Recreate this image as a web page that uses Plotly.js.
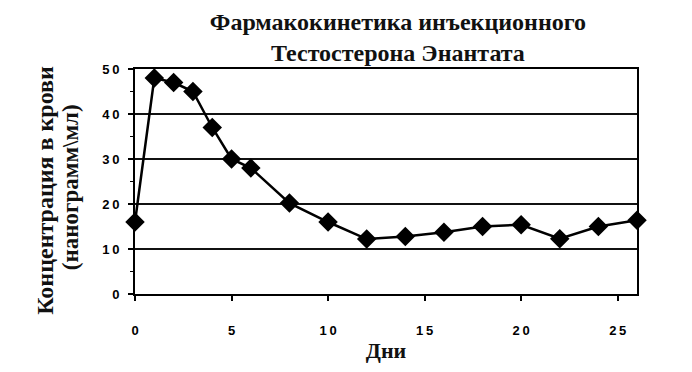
<!DOCTYPE html>
<html>
<head>
<meta charset="utf-8">
<script src="https://cdn.plot.ly/plotly-3.0.1.min.js"></script>
<style>html,body{margin:0;padding:0;background:#fff;}#chart{width:692px;height:372px;}</style>
</head>
<body>
<div id="chart"></div>
<script>
const days = [0, 1, 2, 3, 4, 5, 6, 8, 10, 12, 14, 16, 18, 20, 22, 24, 26];
const concentration = [16, 48, 47, 45, 37, 30, 28, 20.2, 16, 12.2, 12.8, 13.7, 15, 15.4, 12.3, 15, 16.4];
const xTickVals = [0, 5, 10, 15, 20, 25];
const xTickText = ['0', '5', '1\u20090', '1\u20095', '2\u20090', '2\u20095'];
const yTickVals = [0, 10, 20, 30, 40, 50];
const yTickText = ['0', '1\u20090', '2\u20090', '3\u20090', '4\u20090', '5\u20090'];
const chartTitle = 'Фармакокинетика инъекционного<br>Тестостерона Энантата';
const xTitle = '\u2002\u2009Дни';
const yTitle = '<span style="font-size:24px">Концентрация в крови\u00A0\u00A0\u00A0</span><br><span style="font-size:23px">(нанограмм\\мл)\u00A0\u00A0</span>';

const serif = '"Liberation Serif", "Times New Roman", serif';
const sans = '"Liberation Sans", Arial, sans-serif';

const trace = {
  x: days,
  y: concentration,
  type: 'scatter',
  mode: 'lines+markers',
  line: {color: '#000', width: 2.5},
  marker: {symbol: 'diamond', size: 15, color: '#000'},
  cliponaxis: false,
  hoverinfo: 'skip'
};

const layout = {
  width: 692,
  height: 372,
  margin: {l: 135, r: 55, t: 69, b: 78},
  paper_bgcolor: '#fff',
  plot_bgcolor: '#fff',
  showlegend: false,
  title: {
    text: chartTitle,
    font: {family: serif, size: 24, color: '#111', weight: 'bold'},
    x: 0.575, xanchor: 'center',
    y: 0.92, yanchor: 'top'
  },
  xaxis: {
    range: [0, 26],
    tickvals: xTickVals,
    ticktext: xTickText,
    ticks: 'outside', ticklen: 5, tickwidth: 2, tickcolor: '#000',
    ticklabelstandoff: 18,
    tickfont: {family: sans, size: 13, color: '#000', weight: 'bold'},
    showline: true, linecolor: '#000', linewidth: 2, mirror: true,
    showgrid: false, zeroline: false,
    title: {text: xTitle, font: {family: serif, size: 22, color: '#111', weight: 'bold'}, standoff: 6}
  },
  yaxis: {
    range: [0, 50],
    tickvals: yTickVals,
    ticktext: yTickText,
    ticks: 'outside', ticklen: 5, tickwidth: 2, tickcolor: '#000',
    ticklabelstandoff: 6,
    tickfont: {family: sans, size: 13, color: '#000', weight: 'bold'},
    minor: {tickvals: [5, 15, 25, 35, 45], ticks: 'outside', ticklen: 3, tickcolor: '#000', tickwidth: 1.5},
    showline: true, linecolor: '#000', linewidth: 2, mirror: true,
    showgrid: true, gridcolor: '#111', gridwidth: 1.6, zeroline: false,
    title: {text: yTitle, font: {family: serif, size: 19, color: '#111', weight: 'bold'}, standoff: 19}
  }
};

Plotly.newPlot('chart', [trace], layout, {displayModeBar: false, staticPlot: true});
</script>
</body>
</html>
